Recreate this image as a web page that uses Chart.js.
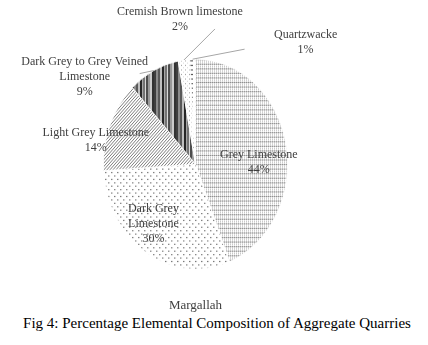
<!DOCTYPE html>
<html>
<head>
<meta charset="utf-8">
<script src="https://cdn.jsdelivr.net/npm/chart.js@4.4.0/dist/chart.umd.min.js"></script>
<style>
  html, body { margin: 0; padding: 0; background: #fff; }
  #wrap { position: relative; width: 428px; height: 315px; }
  #caption {
    width: 428px; padding-left: 6px; box-sizing: border-box;
    font: 15px "Liberation Serif", "Times New Roman", serif;
    line-height: 16px; color: #000; text-align: center;
  }
</style>
</head>
<body>
<div id="wrap"><canvas id="pieChart"></canvas></div>
<div id="caption">Fig 4: Percentage Elemental Composition of Aggregate Quarries</div>
<script>
// data
var categories = ['Grey Limestone', 'Dark Grey Limestone', 'Light Grey Limestone',
    'Dark Grey to Grey Veined Limestone', 'Cremish Brown limestone', 'Quartzwacke'];
var percents = [44, 30, 14, 9, 2, 1];
var labelText = [['Grey Limestone'], ['Dark Grey', 'Limestone'], ['Light Grey Limestone'],
    ['Dark Grey to Grey Veined', 'Limestone'], ['Cremish Brown limestone'], ['Quartzwacke']];
var chartTitle = 'Margallah';

// label placement: f = fraction of radius along the slice middle, dx/dy nudge, line = leader end
var labelPlace = [
    { f: 0.7, dx: 0, dy: 12 },
    { f: 0.65, dx: -10, dy: 2 },
    { f: 1.0, dx: -14, dy: 15 },
    { f: 1.0, dx: -69, dy: 6, line: [-14, 3] },
    { f: 1.0, dx: -4, dy: -41, line: [31, -31] },
    { f: 1.0, dx: 113, dy: -17, line: [52, -10] }
];
var stretchY = 1.14; // the original pie is a bit taller than wide

var ctx = document.getElementById('pieChart').getContext('2d');

function makePattern(w, h, draw) {
    var c = document.createElement('canvas');
    c.width = w;
    c.height = h;
    var g = c.getContext('2d');
    g.fillStyle = '#fff';
    g.fillRect(0, 0, w, h);
    draw(g);
    return ctx.createPattern(c, 'repeat');
}
function px(g, color, pts) {
    g.fillStyle = color;
    pts.forEach(function (p) { g.fillRect(p[0], p[1], p[2] || 1, p[3] || 1); });
}

var patterns = [
    makePattern(4, 4, function (g) {
        px(g, '#8f8f8f', [[0, 0], [2, 0]]);
        px(g, '#c8c8c8', [[0, 2], [2, 2], [1, 0], [3, 0]]);
        px(g, '#e4e4e4', [[0, 1], [2, 1], [0, 3], [2, 3]]);
    }),
    makePattern(6, 6, function (g) {
        px(g, '#7a7a7a', [[0, 0], [3, 3]]);
        px(g, '#c4c4c4', [[1, 0], [4, 3]]);
    }),
    makePattern(3, 3, function (g) {
        px(g, '#7f7f7f', [[2, 0], [1, 1], [0, 2]]);
    }),
    makePattern(22, 1, function (g) {
        var stripes = [['#3f3f3f', 2], ['#8c8c8c', 2], ['#595959', 2], ['#bfbfbf', 2], ['#262626', 2],
            ['#a6a6a6', 1], ['#737373', 2], ['#d9d9d9', 1], ['#4d4d4d', 2], ['#999999', 2], ['#cccccc', 2], ['#333333', 2]];
        var x = 0;
        stripes.forEach(function (s) { px(g, s[0], [[x, 0, s[1], 1]]); x += s[1]; });
    }),
    makePattern(4, 4, function (g) {
        px(g, '#a6a6a6', [[1, 1]]);
        px(g, '#dddddd', [[3, 3]]);
    }),
    makePattern(5, 4, function (g) {
        px(g, '#595959', [[0, 1, 3, 1]]);
    })
];

var pieLabels = {
    id: 'pieLabels',
    beforeDatasetsDraw: function (chart) {
        var arc = chart.getDatasetMeta(0).data[0];
        var c = chart.ctx;
        c.save();
        c.translate(arc.x, arc.y);
        c.scale(1, stretchY);
        c.translate(-arc.x, -arc.y);
    },
    afterDatasetsDraw: function (chart) {
        var c = chart.ctx;
        c.restore();
        var arcs = chart.getDatasetMeta(0).data;
        c.save();
        c.font = '12px "Liberation Serif", "Times New Roman", serif';
        c.fillStyle = '#404040';
        c.textAlign = 'center';
        c.textBaseline = 'middle';
        arcs.forEach(function (arc, i) {
            var p = arc.getProps(['x', 'y', 'startAngle', 'endAngle', 'outerRadius'], true);
            var mid = (p.startAngle + p.endAngle) / 2;
            var place = labelPlace[i];
            var ex = p.x + Math.cos(mid) * p.outerRadius * place.f;
            var ey = p.y + Math.sin(mid) * p.outerRadius * stretchY * place.f;
            if (place.line) {
                c.strokeStyle = '#a6a6a6';
                c.lineWidth = 1;
                c.beginPath();
                c.moveTo(ex, ey);
                c.lineTo(ex + place.line[0], ey + place.line[1]);
                c.stroke();
            }
            var lines = labelText[i].concat([percents[i] + '%']);
            var lh = 15;
            var y0 = ey + place.dy - (lines.length - 1) * lh / 2;
            lines.forEach(function (t, k) {
                c.fillText(t, ex + place.dx, y0 + k * lh);
            });
        });
        c.restore();
    }
};

new Chart(ctx, {
    type: 'pie',
    data: {
        labels: categories,
        datasets: [{
            data: percents,
            backgroundColor: patterns,
            borderColor: '#ffffff',
            borderWidth: 0.75,
            clip: false
        }]
    },
    options: {
        responsive: true,
        maintainAspectRatio: false,
        animation: false,
        layout: { padding: { left: 103, right: 140, top: 71, bottom: 1.6 } },
        plugins: {
            legend: { display: false },
            tooltip: { enabled: false },
            title: {
                display: true,
                text: chartTitle,
                position: 'bottom',
                color: '#404040',
                font: { family: '"Liberation Serif", "Times New Roman", serif', size: 13, weight: 'normal' },
                padding: { top: 40.5, bottom: 0 }
            }
        }
    },
    plugins: [pieLabels]
});
</script>
</body>
</html>
